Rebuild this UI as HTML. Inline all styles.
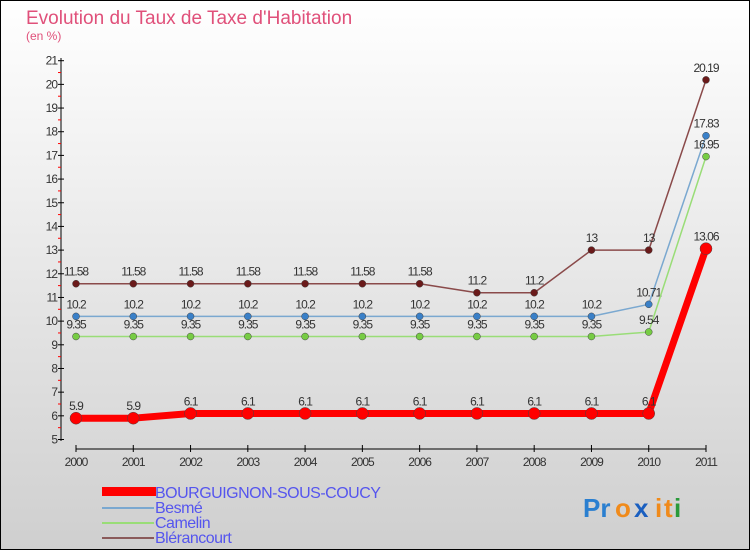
<!DOCTYPE html>
<html><head><meta charset="utf-8"><style>
body{margin:0}
#c{width:750px;height:550px;position:relative;font-family:"Liberation Sans",sans-serif;}
</style></head><body>
<div id="c">
<svg width="750" height="550" xmlns="http://www.w3.org/2000/svg" id="svg">
<defs><linearGradient id="bg" x1="0" y1="0" x2="0" y2="1"><stop offset="0" stop-color="#ffffff"/><stop offset="1" stop-color="#cfcfcf"/></linearGradient></defs>
<rect x="0.5" y="0.5" width="749" height="549" fill="url(#bg)" stroke="#000"/>
<text x="26" y="24" font-size="19" fill="#e0507a">Evolution du Taux de Taxe d'Habitation</text>
<text x="26" y="40" font-size="12" fill="#e0507a">(en %)</text>
<g id="axes"></g>
<g id="series"></g>
<g>
<rect x="102" y="487" width="54" height="9" fill="#f00"/>
<line x1="102" y1="508" x2="154" y2="508" stroke="#7aa8d0" stroke-width="2"/>
<line x1="102" y1="523" x2="154" y2="523" stroke="#99dd77" stroke-width="2"/>
<line x1="102" y1="538" x2="154" y2="538" stroke="#8a5a5a" stroke-width="2"/>
<g font-size="16" fill="#5555ee" letter-spacing="-0.5">
<text x="155" y="498">BOURGUIGNON-SOUS-COUCY</text>
<text x="155" y="513">Besmé</text>
<text x="155" y="528">Camelin</text>
<text x="155" y="543">Blérancourt</text>
</g></g>
<g font-size="26" font-weight="bold">
<text x="583" y="517" fill="#2a7fd0">Pr</text><text x="615" y="517" fill="#f08a1a">o</text><text x="634" y="517" fill="#1a5fc0">x</text><text x="655" y="517" fill="#f08a1a">i</text><text x="664" y="517" fill="#f08a1a">t</text><text x="674" y="517" fill="#2a9a3a">i</text>
</g>
</svg>
</div>
<script>
const years=[2000,2001,2002,2003,2004,2005,2006,2007,2008,2009,2010,2011];
const yTicks=[5,6,7,8,9,10,11,12,13,14,15,16,17,18,19,20,21];
const bourguignon=[5.9,5.9,6.1,6.1,6.1,6.1,6.1,6.1,6.1,6.1,6.1,13.06];
const besme=[10.2,10.2,10.2,10.2,10.2,10.2,10.2,10.2,10.2,10.2,10.71,17.83];
const camelin=[9.35,9.35,9.35,9.35,9.35,9.35,9.35,9.35,9.35,9.35,9.54,16.95];
const blerancourt=[11.58,11.58,11.58,11.58,11.58,11.58,11.58,11.2,11.2,13,13,20.19];
const NS="http://www.w3.org/2000/svg";
const x=i=>76+i*(706-76)/(years.length-1);
const y=v=>439.5-(v-5)*(439.5-60.7)/16;
function mk(p,t,a){const e=document.createElementNS(NS,t);for(const k in a)e.setAttribute(k,a[k]);p.appendChild(e);return e;}
const ax=document.getElementById('axes');
let l=mk(ax,'line',{x1:61,y1:58,x2:61,y2:441,stroke:'#000'});


yTicks.forEach(v=>{
 mk(ax,'line',{x1:58,y1:y(v),x2:64,y2:y(v),stroke:'#000'});
 if(v<21)mk(ax,'line',{x1:58,y1:y(v+0.5),x2:61,y2:y(v+0.5),stroke:'#f00'});
 const t=mk(ax,'text',{x:57,y:y(v)+4,'text-anchor':'end','font-size':12,fill:'#333','letter-spacing':'-1'});
 t.textContent=v;
 
 
});
l=mk(ax,'line',{x1:x(0),y1:449,x2:x(11),y2:449,stroke:'#000'});


years.forEach((yr,i)=>{
 mk(ax,'line',{x1:x(i),y1:445,x2:x(i),y2:452,stroke:'#000'});
 const t=mk(ax,'text',{x:x(i),y:466,'text-anchor':'middle','font-size':12,fill:'#333','letter-spacing':'-1'});
 t.textContent=yr;
 
 
});
const sg=document.getElementById('series');
function series(name,d,col,w,r,dot){
 const g=mk(sg,'g',{});
 
 
 const p=mk(g,'polyline',{points:d.map((v,i)=>x(i)+','+y(v)).join(' '),fill:'none',stroke:col,'stroke-width':w,'stroke-linejoin':'round'});
 
 
 d.forEach((v,i)=>{
  const c=mk(g,'circle',{cx:x(i),cy:y(v),r:r,fill:dot,stroke:'#444','stroke-width':0.5});
  
  
  const t=mk(g,'text',{x:x(i),y:y(v)-8,'text-anchor':'middle','font-size':12,fill:'#333','letter-spacing':'-1'});
  t.textContent=v;
  
  
 });
}
series('blerancourt',blerancourt,'#8a4a4a',1.5,3.5,'#6a1a1a');
series('besme',besme,'#7aa8d0',1.5,3.5,'#3a80c8');
series('camelin',camelin,'#99dd77',1.5,3.5,'#77cc44');
series('bourguignon',bourguignon,'#f00',7,6,'#f00');
</script>
</body></html>
